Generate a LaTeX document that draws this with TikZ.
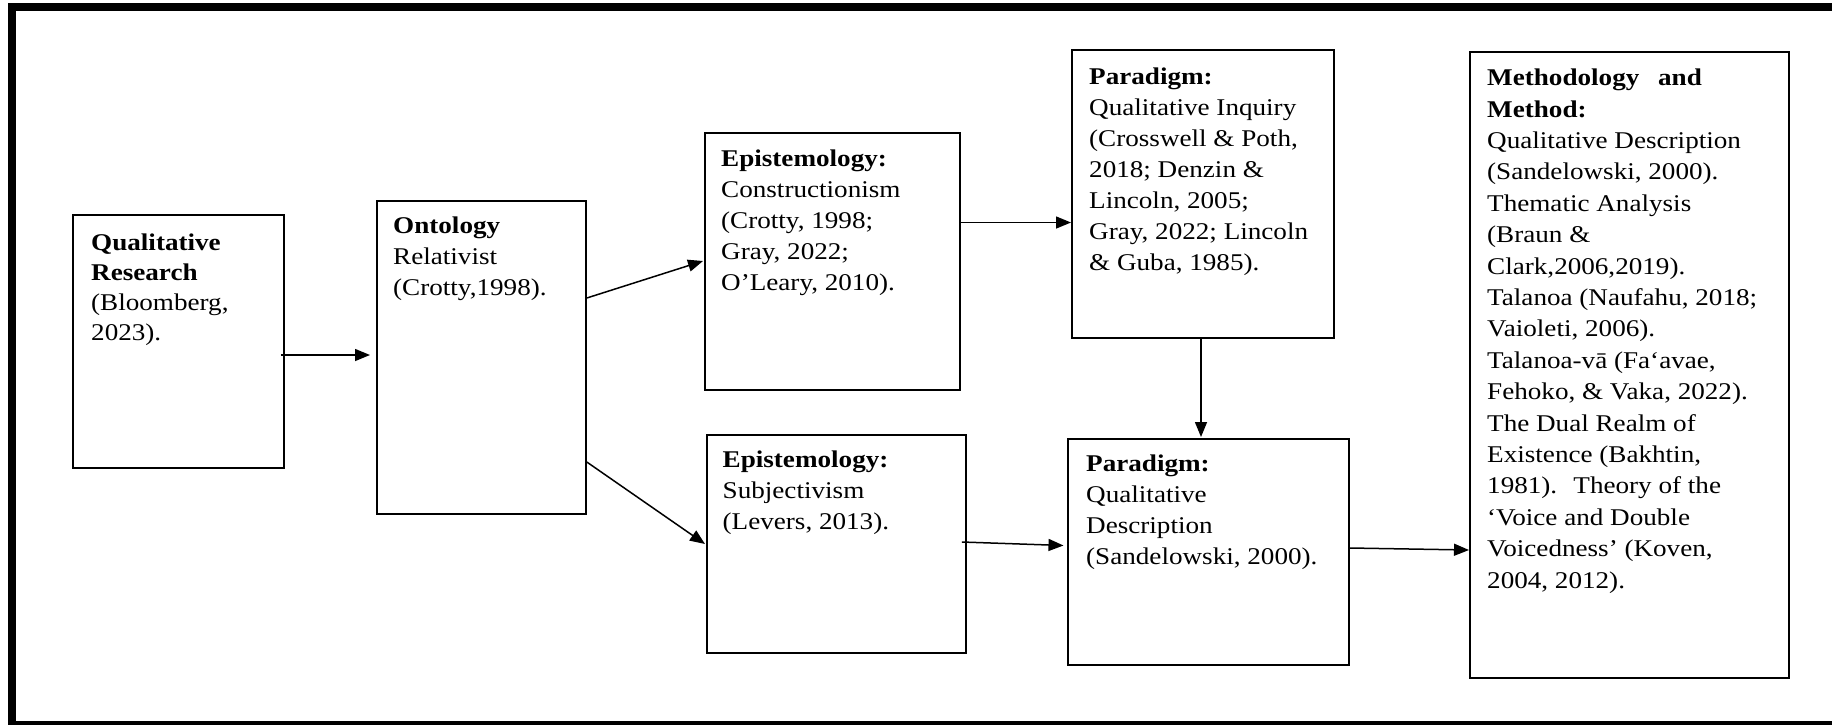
\documentclass[tikz,border=0pt]{standalone}
\usepackage{fontspec}
\setmainfont{Liberation Serif}[FakeStretch=1.13]
\usetikzlibrary{arrows.meta,calc}
\tikzset{
  box/.style={draw=black, line width=1.8pt, anchor=north west, inner sep=0pt, rectangle},
  txt/.style={anchor=north west, inner sep=0pt, align=left, font=\fontsize{24}{31}\selectfont},
  arr/.style={draw=black, line width=1.5pt, -{Triangle[length=15pt,width=12pt]}},
}
\newcommand{\fl}{\rule{0pt}{22pt}}
\begin{document}
\begin{tikzpicture}[x=1pt,y=-1pt]
\useasboundingbox (0,0) rectangle (1832,724);
\clip (0,0) rectangle (1832,724);
\draw[line width=7.5pt] (12,7) rectangle (1835.6,725);

% boxes
\node[box, minimum width=211pt, minimum height=253pt] (qr) at (72,214) {};
\node[box, minimum width=209pt, minimum height=313pt] (ont) at (376,200) {};
\node[box, minimum width=255pt, minimum height=257pt] (ep1) at (704,132) {};
\node[box, minimum width=259pt, minimum height=218pt] (ep2) at (706,434) {};
\node[box, minimum width=262pt, minimum height=288pt] (p1) at (1071,49) {};
\node[box, minimum width=281pt, minimum height=226pt] (p2) at (1067,438) {};
\node[box, minimum width=319pt, minimum height=626pt] (m) at (1469,51) {};

% texts
\node[txt, font=\fontsize{24}{30}\selectfont] (tqr) at ([xshift=19pt,yshift=-14pt]qr.north west)
 {\fl\textbf{Qualitative}\\\textbf{Research}\\(Bloomberg,\\2023).};
\node[txt] (tont) at ([xshift=17pt,yshift=-11.5pt]ont.north west)
 {\fl\textbf{Ontology}\\Relativist\\(Crotty,1998).};
\node[txt] (tep1) at ([xshift=17pt,yshift=-12pt]ep1.north west)
 {\fl\textbf{Epistemology:}\\Constructionism\\(Crotty, 1998;\\Gray, 2022;\\O’Leary, 2010).};
\node[txt] (tep2) at ([xshift=16.5pt,yshift=-11pt]ep2.north west)
 {\fl\textbf{Epistemology:}\\Subjectivism\\(Levers, 2013).};
\node[txt] (tp1) at ([xshift=18pt,yshift=-13pt]p1.north west)
 {\fl\textbf{Paradigm:}\\Qualitative Inquiry\\(Crosswell \& Poth,\\2018; Denzin \&\\Lincoln, 2005;\\Gray, 2022; Lincoln\\\& Guba, 1985).};
\node[txt] (tp2) at ([xshift=19pt,yshift=-11.5pt]p2.north west)
 {\fl\textbf{Paradigm:}\\Qualitative\\Description\\(Sandelowski, 2000).};
\node[txt, font=\fontsize{24}{31.4}\selectfont] (tm) at ([xshift=18pt,yshift=-12.4pt]m.north west)
 {\fl\textbf{Methodology\hspace{0.5em} and}\\\textbf{Method:}\\Qualitative Description\\(Sandelowski, 2000).\\Thematic Analysis\\(Braun \&\\Clark,2006,2019).\\Talanoa (Naufahu, 2018;\\Vaioleti, 2006).\\Talanoa-vā (Fa‘avae,\\Fehoko, \& Vaka, 2022).\\The Dual Realm of\\Existence (Bakhtin,\\1981).\hspace{0.3em} Theory of the\\‘Voice and Double\\Voicedness’ (Koven,\\2004, 2012).};

% connectors
\draw[arr] ([xshift=-4pt,yshift=-141pt]qr.north east) -- ([xshift=-6pt,yshift=-155pt]ont.north west);
\draw[arr] ([yshift=-98pt]ont.north east) -- ([xshift=-1pt,yshift=-129pt]ep1.north west);
\draw[arr] ([yshift=-262pt]ont.north east) -- ([xshift=-1pt,yshift=-110pt]ep2.north west);
\draw[arr] ([yshift=-90.5pt]ep1.north east) -- ([yshift=-173.5pt]p1.north west);
\draw[arr] ([xshift=130pt]p1.south west) -- ([xshift=134pt,yshift=1pt]p2.north west);
\draw[arr] ([xshift=-5pt,yshift=-108pt]ep2.north east) -- ([xshift=-3.5pt,yshift=-107.5pt]p2.north west);
\draw[arr] ([yshift=-110pt]p2.north east) -- ([yshift=-499pt]m.north west);
\end{tikzpicture}
\end{document}
